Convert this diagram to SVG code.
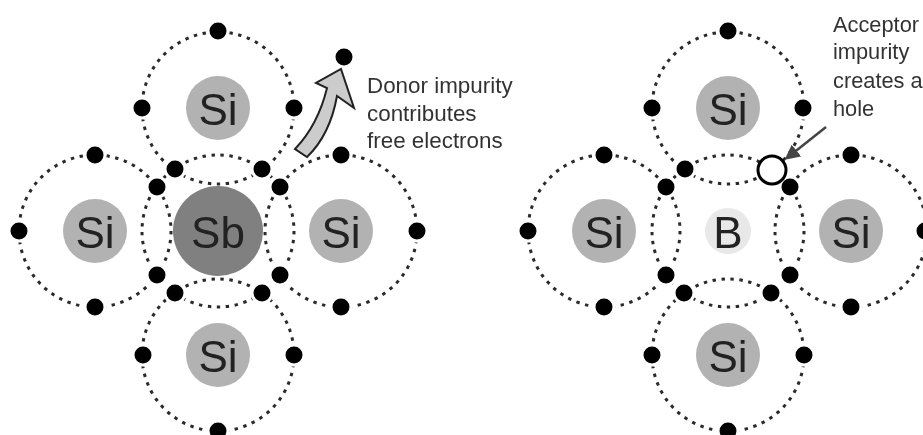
<svg xmlns="http://www.w3.org/2000/svg" width="923" height="435" viewBox="0 0 923 435">
<style>
text{font-family:"Liberation Sans",Arial,sans-serif;fill:#222}
.orbit{fill:none;stroke:#2a2a2a;stroke-width:3;stroke-dasharray:3.4 5.6}
.si{fill:#b2b2b2}
.sym{font-size:44px;text-anchor:middle}
.lab{font-size:22.4px;fill:#333}
.lab2{font-size:21.8px;fill:#333}
.e{fill:#000;stroke:#fff;stroke-width:3}
</style>
<defs>
<circle id="dot" r="10" class="e"/>
<filter id="soft" x="-2%" y="-2%" width="104%" height="104%"><feGaussianBlur stdDeviation="0.6"/></filter>
<marker id="ah" viewBox="0 0 10 10" refX="8" refY="5" markerWidth="6" markerHeight="6" orient="auto"><path d="M0 0L10 5L0 10Z" fill="#444"/></marker>
</defs>
<rect width="923" height="435" fill="#fff"/>
<g filter="url(#soft)">
<g id="orbits-left">
<circle class="orbit" cx="218" cy="108" r="76"/><circle class="orbit" cx="95" cy="231" r="76"/><circle class="orbit" cx="341" cy="231" r="76"/><circle class="orbit" cx="218" cy="355" r="76"/><circle class="orbit" cx="218" cy="231" r="76"/>
</g>
<g id="orbits-right">
<circle class="orbit" cx="728" cy="108" r="76"/><circle class="orbit" cx="604" cy="231" r="76"/><circle class="orbit" cx="851" cy="231" r="76"/><circle class="orbit" cx="728" cy="355" r="76"/><circle class="orbit" cx="728" cy="231" r="76"/>
</g>
<g id="si-left-top"><circle class="si" cx="218" cy="108" r="32"/><text class="sym" x="218" y="125">Si</text>
<use href="#dot" x="218" y="31"/><use href="#dot" x="142" y="108"/><use href="#dot" x="294" y="108"/></g>
<g id="si-left-left"><circle class="si" cx="95" cy="231" r="32"/><text class="sym" x="95" y="248">Si</text>
<use href="#dot" x="95" y="155"/><use href="#dot" x="19" y="231"/><use href="#dot" x="95" y="307"/></g>
<g id="si-left-right"><circle class="si" cx="341" cy="231" r="32"/><text class="sym" x="341" y="248">Si</text>
<use href="#dot" x="341" y="155"/><use href="#dot" x="417" y="231"/><use href="#dot" x="341" y="307"/></g>
<g id="si-left-bottom"><circle class="si" cx="218" cy="355" r="32"/><text class="sym" x="218" y="372">Si</text>
<use href="#dot" x="143" y="355"/><use href="#dot" x="294" y="355"/><use href="#dot" x="218" y="431"/></g>
<g id="sb-center"><circle cx="218" cy="231" r="45" fill="#808080"/><text class="sym" x="218" y="248">Sb</text>
<use href="#dot" x="175" y="169"/><use href="#dot" x="262" y="169"/><use href="#dot" x="157" y="187"/><use href="#dot" x="280" y="187"/><use href="#dot" x="157" y="275"/><use href="#dot" x="280" y="275"/><use href="#dot" x="175" y="293"/><use href="#dot" x="262" y="293"/></g>
<g id="free-electron"><use href="#dot" x="344" y="57"/></g>
<g id="si-right-top"><circle class="si" cx="728" cy="108" r="32"/><text class="sym" x="728" y="125">Si</text>
<use href="#dot" x="728" y="31"/><use href="#dot" x="652" y="108"/><use href="#dot" x="803" y="108"/></g>
<g id="si-right-left"><circle class="si" cx="604" cy="231" r="32"/><text class="sym" x="604" y="248">Si</text>
<use href="#dot" x="604" y="155"/><use href="#dot" x="528" y="231"/><use href="#dot" x="604" y="307"/></g>
<g id="si-right-right"><circle class="si" cx="851" cy="231" r="32"/><text class="sym" x="851" y="248">Si</text>
<use href="#dot" x="851" y="155"/><use href="#dot" x="925" y="231"/><use href="#dot" x="851" y="307"/></g>
<g id="si-right-bottom"><circle class="si" cx="728" cy="355" r="32"/><text class="sym" x="728" y="372">Si</text>
<use href="#dot" x="652" y="355"/><use href="#dot" x="804" y="355"/><use href="#dot" x="728" y="431"/></g>
<g id="b-center"><circle cx="728" cy="231" r="23" fill="#e8e8e8"/><text class="sym" x="728" y="248">B</text>
<use href="#dot" x="685" y="169"/><use href="#dot" x="666" y="187"/><use href="#dot" x="790" y="187"/><use href="#dot" x="666" y="275"/><use href="#dot" x="790" y="275"/><use href="#dot" x="684" y="293"/><use href="#dot" x="771" y="293"/></g>
<g id="hole"><circle cx="772" cy="170" r="14" fill="#fff" stroke="#000" stroke-width="3"/></g>
<g id="connectors">
<path d="M341 69L354 108L337 96Q330 135 307 157L295 149Q318 125 327 88L316 83Z" fill="#ccc" stroke="#222" stroke-width="2" stroke-linejoin="miter"/>
<line x1="826" y1="127" x2="787" y2="158" stroke="#444" stroke-width="2.5" marker-end="url(#ah)"/>
</g>
<g id="labels">
<text class="lab" x="367" y="93">Donor impurity</text>
<text class="lab" x="367" y="121">contributes</text>
<text class="lab" x="367" y="148">free electrons</text>
<text class="lab2" x="833" y="32">Acceptor</text>
<text class="lab2" x="833" y="59">impurity</text>
<text class="lab2" x="833" y="88">creates a</text>
<text class="lab2" x="833" y="116">hole</text>
</g>
</g>
</svg>
